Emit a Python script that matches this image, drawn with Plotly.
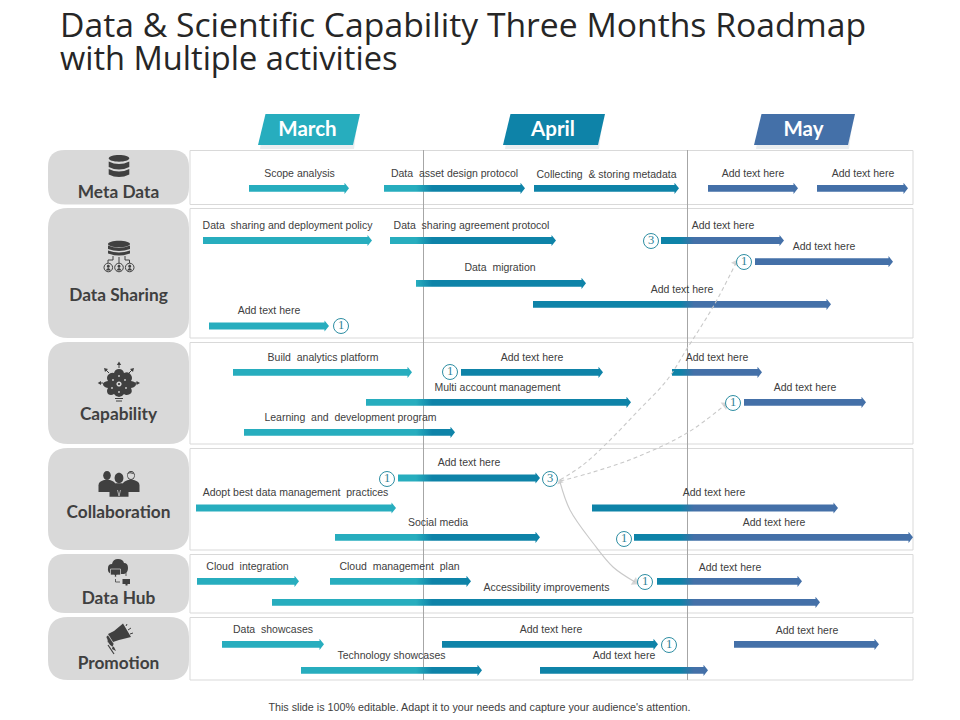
import math
import plotly.graph_objects as go

title_lines = ["Data & Scientific Capability Three Months Roadmap", "with Multiple activities"]
footer_text = "This slide is 100% editable. Adapt it to your needs and capture your audience's attention."

months = ["March", "April", "May"]
month_colors = ["#27ADBE", "#0E83A8", "#4470A8"]
month_left = [258, 503, 754]
month_right = [353, 598, 848]
month_text_x = [307.5, 553, 803.5]

categories = ["Meta Data", "Data Sharing", "Capability", "Collaboration", "Data Hub", "Promotion"]
row_top = [150, 208, 342, 448, 554, 617]
row_bottom = [204.5, 338, 444, 550, 613, 680]
category_text_y = [191, 294, 413, 511, 597, 662]

task_labels = [
    "Scope analysis", "Data  asset design protocol", "Collecting  & storing metadata", "Add text here", "Add text here",
    "Data  sharing and deployment policy", "Data  sharing agreement protocol", "Add text here", "Add text here",
    "Data  migration", "Add text here", "Add text here",
    "Build  analytics platform", "Add text here", "Add text here", "Multi account management", "Add text here",
    "Learning  and  development program",
    "Add text here", "Adopt best data management  practices", "Add text here", "Social media", "Add text here",
    "Cloud  integration", "Cloud  management  plan", "Add text here", "Accessibility improvements",
    "Data  showcases", "Add text here", "Add text here", "Technology showcases", "Add text here",
]
task_start = [249, 384, 534, 708, 817,
              203, 390, 661, 755, 416, 533, 209,
              233, 461, 672, 366, 744, 244,
              398, 196, 592, 335, 634,
              197, 330, 657, 272,
              222, 442, 734, 301, 540]
task_end = [349, 525, 679, 798, 908,
            372, 556, 784, 893, 586, 831, 329,
            412, 603, 762, 631, 866, 455,
            540, 396, 838, 540, 913,
            299, 471, 802, 820,
            324, 658, 879, 482, 708]
task_y = [188.3, 188.3, 188.3, 188.3, 188.3,
          240.5, 240.5, 240.5, 261.7, 283.3, 304.3, 326,
          372.3, 372.3, 372.3, 402.3, 402.3, 432.3,
          478, 508, 508, 537.3, 537.3,
          581.3, 581.3, 581.3, 602.3,
          644.3, 644.3, 644.3, 670.3, 670.3]
label_x = [299.5, 454.5, 606.5, 753, 863,
           287.5, 471.5, 723, 824, 500, 682, 269,
           323, 532, 717, 497.5, 805, 350.5,
           469, 295.5, 714, 438, 774,
           247.5, 399.5, 730, 546.5,
           273, 551, 807, 391.5, 624]
label_y = [174, 174, 175, 174, 174,
           226, 226, 226, 247, 268, 290, 311,
           358, 358, 358, 388, 388, 418,
           463, 493, 493, 523, 523,
           567, 567, 568, 588,
           630, 630, 631, 656, 656]

badge_x = [651, 744, 341, 450, 733, 387, 550, 624, 645, 669]
badge_y = [241, 262, 326, 372, 403, 479, 479, 539, 582, 645]
badge_text = ["3", "1", "1", "1", "1", "1", "3", "1", "1", "1"]

month_divider_x = [423.5, 687.5]

link_a_x = [560, 583, 607, 637, 667, 688, 713, 736]
link_a_y = [480, 465, 443, 412, 380, 347, 307, 263]
link_b_x = [560, 590, 637, 687, 725]
link_b_y = [481, 473, 457, 433, 405]
link_c_x = [560, 570, 593, 613, 635]
link_c_y = [482, 510, 543, 567, 582]

DARK = "#404040"
shapes = []


def rrect(x0, y0, x1, y1, r):
    return (f"M{x0+r},{y0} L{x1-r},{y0} Q{x1},{y0} {x1},{y0+r} L{x1},{y1-r} Q{x1},{y1} {x1-r},{y1} "
            f"L{x0+r},{y1} Q{x0},{y1} {x0},{y1-r} L{x0},{y0+r} Q{x0},{y0} {x0+r},{y0} Z")


def ell(cx, cy, rx, ry):
    k = 0.5523
    return (f"M{cx-rx},{cy} C{cx-rx},{cy-k*ry} {cx-k*rx},{cy-ry} {cx},{cy-ry} "
            f"C{cx+k*rx},{cy-ry} {cx+rx},{cy-k*ry} {cx+rx},{cy} "
            f"C{cx+rx},{cy+k*ry} {cx+k*rx},{cy+ry} {cx},{cy+ry} "
            f"C{cx-k*rx},{cy+ry} {cx-rx},{cy+k*ry} {cx-rx},{cy} Z")


def poly(points):
    return "M" + " L".join(f"{a},{b}" for a, b in points) + " Z"


def add(path, fill=DARK, line=None, width=0):
    shapes.append(dict(type="path", path=path, xref="x", yref="y", layer="below", fillcolor=fill,
                       line=dict(color=line or "rgba(0,0,0,0)", width=width)))


def stroke(pts, color=DARK, width=1.0):
    shapes.append(dict(type="path", path="M" + " L".join(f"{a},{b}" for a, b in pts), xref="x", yref="y",
                       layer="below", line=dict(color=color, width=width)))


def person(cx, cy, head, w, h, fill=DARK):
    add(ell(cx, cy, head * 0.85, head), fill)
    top = cy + head
    add(f"M{cx-w},{top+h} L{cx-w},{top+h*0.45} Q{cx-w},{top+h*0.12} {cx-w*0.35},{top} "
        f"L{cx+w*0.35},{top} Q{cx+w},{top+h*0.12} {cx+w},{top+h*0.45} L{cx+w},{top+h} Z", fill)


# month headers
for i in range(3):
    l, r = month_left[i], month_right[i]
    add(poly([(l + 2, 149), (l + 7, 118), (r + 5, 118), (r + 1, 149)]), "#E9EDF0")
    add(poly([(l, 145), (l + 7.5, 114), (r + 7, 114), (r, 145)]), month_colors[i])

# rows
for t, b in zip(row_top, row_bottom):
    add(rrect(48, t, 189, b, 20 if b - t > 60 else 17), "#D9D9D9")
    shapes.append(dict(type="rect", x0=190, x1=913, y0=t + 0.5, y1=b, xref="x", yref="y", layer="below",
                       fillcolor="white", line=dict(color="#D9D9D9", width=1)))
for x in month_divider_x:
    shapes.append(dict(type="line", x0=x, x1=x, y0=150, y1=680, xref="x", yref="y", layer="below",
                       line=dict(color="#A6A6A6", width=1)))

# icon: meta data
add(ell(119, 158.3, 10.3, 3.4))
add("M108.7,161.5 Q119,166.5 129.3,161.5 L129.3,167 Q119,172 108.7,167 Z")
add("M108.7,169 Q119,174 129.3,169 L129.3,174.5 Q119,179.5 108.7,174.5 Z")

# icon: data sharing
add(ell(119, 244, 11, 3.2))
add("M108,245.5 Q119,250 130,245.5 L130,249 Q119,253 108,249 Z")
add("M108,250.5 Q119,254.5 130,250.5 L130,253.5 Q119,257.5 108,253.5 Z")
stroke([(119, 257), (119, 263)])
stroke([(113, 256), (113, 260), (108, 260), (108, 263)])
stroke([(125, 256), (125, 260), (129.5, 260), (129.5, 263)])
for cx in (108.3, 119, 129.7):
    add(ell(cx, 267.5, 4.3, 4.3), "#D9D9D9", DARK, 1)
    add(ell(cx, 266.2, 1.5, 1.5))
    add(f"M{cx-2.6},{270.5} Q{cx},{265.5} {cx+2.6},{270.5} Z")

# icon: capability
add("M119,369 Q123,369 124,373 Q129,371 131,375 Q133,378 131,381 Q136,382 136,384 Q136,387 131,388 "
    "Q133,392 130,394 Q126,396 124,394 Q122,397 119,397 Q116,397 114,394 Q111,396 108,394 Q106,391 108,388 "
    "Q103,387 103,384 Q103,382 108,381 Q106,378 108,375 Q111,372 114,373 Q115,369 119,369 Z")
add(ell(119, 384, 2.6, 2.6), "#D9D9D9")
add(ell(119, 384, 1.1, 1.1))
for px, py in [(113, 380), (125, 380), (112, 388), (126, 388), (119, 376), (119, 392)]:
    add(ell(px, py, 0.9, 0.9), "#D9D9D9")
stroke([(115, 398.5), (123, 398.5)], DARK, 1)
stroke([(116, 401), (122, 401)], DARK, 1)
stroke([(119, 368), (119, 364)], DARK, 1)
add(poly([(116.8, 365), (119, 361.5), (121.2, 365)]))
stroke([(109, 373), (106, 370)], DARK, 1)
add(poly([(104, 368), (108, 369), (105, 372)]))
stroke([(129, 373), (132, 370)], DARK, 1)
add(poly([(134, 368), (130, 369), (133, 372)]))
stroke([(103, 383), (100, 383)], DARK, 1)
add(poly([(101, 381), (97.7, 383), (101, 385)]))
stroke([(135, 383), (137, 383)], DARK, 1)
add(poly([(136.5, 381), (140, 383), (136.5, 385)]))

# icon: collaboration
person(107, 475.5, 4.5, 8.5, 12)
person(131, 475.5, 4.5, 8.5, 12)
person(119, 478, 5.2, 9.5, 13.5)
add(ell(131, 475.5, 3.2, 3.4), "#D9D9D9")
add("M126.5,474 Q131,470 135.5,475 Q131,472 126.5,474 Z")
stroke([(117.5, 490), (119, 496)], "#D9D9D9", 0.7)
stroke([(120.5, 490), (119, 496)], "#D9D9D9", 0.7)

# icon: data hub
add("M112,574 Q107,573 108,568 Q108,564 112,564 Q113,559 118,559 Q123,559 124,563 Q128,563 128,568 "
    "Q128,573 124,574 Z")
add(poly([(110.5, 569), (120.5, 569), (120.5, 575), (116.5, 575), (116.5, 577), (114.5, 577), (114.5, 575), (110.5, 575)]),
    DARK, "#D9D9D9", 0.7)
add(poly([(122.5, 579), (130, 579), (130, 584), (127.5, 584), (127.5, 585.5), (125.5, 585.5), (125.5, 584), (122.5, 584)]))
stroke([(115.5, 579), (115.5, 582), (120, 582)], DARK, 0.8)
stroke([(122, 572.5), (126, 572.5), (126, 576)], DARK, 0.8)

# icon: promotion
add(poly([(123, 623.5), (131, 637), (119, 640), (113, 642), (108, 634), (114, 631)]))
add(poly([(108, 635), (114, 644), (112, 647), (106, 637)]), DARK, "#D9D9D9", 0.5)
add(poly([(107, 637), (113, 645), (112, 649), (116, 651), (114, 647), (110, 645), (107, 640), (108.5, 644)]))
stroke([(108, 645), (114, 654)], DARK, 1.2)
stroke([(128, 630), (131, 628)], DARK, 1)
stroke([(130, 634), (133, 633)], DARK, 1)
stroke([(126, 626), (127, 624)], DARK, 1)

fig = go.Figure()

# task arrows: one trace whose gradient runs across the month boundaries
BODY, HEAD, TIP = 3.4, 5.6, 4.5
xs, ys = [], []
for s, e, y in zip(task_start, task_end, task_y):
    xs += [s, e - TIP, e - TIP, e, e - TIP, e - TIP, s, s, None]
    ys += [y - BODY, y - BODY, y - HEAD, y, y + HEAD, y + BODY, y + BODY, y - BODY, None]
gs, ge = 190.0, 915.0
norm = lambda v: (v - gs) / (ge - gs)
fig.add_trace(go.Scatter(
    x=xs, y=ys, mode="lines", fill="toself", line=dict(width=0), hoverinfo="skip", showlegend=False,
    fillgradient=dict(type="horizontal", start=gs, stop=ge, colorscale=[
        [0, month_colors[0]], [norm(416), month_colors[0]], [norm(432), month_colors[1]],
        [norm(680), month_colors[1]], [norm(694), month_colors[2]], [1, month_colors[2]]])))


def heading(x0, y0, x1, y1):
    return math.degrees(math.atan2(x1 - x0, -(y1 - y0)))


# links
for lx, ly, dash, both in [(link_a_x, link_a_y, "4px,3px", False), (link_b_x, link_b_y, "4px,3px", False),
                           (link_c_x, link_c_y, "solid", True)]:
    sizes = [0] * len(lx)
    angles = [0] * len(lx)
    sizes[-1] = 8
    angles[-1] = heading(lx[-2], ly[-2], lx[-1], ly[-1])
    if both:
        sizes[0] = 6
        angles[0] = heading(lx[1], ly[1], lx[0], ly[0])
    fig.add_trace(go.Scatter(
        x=lx, y=ly, mode="lines+markers", hoverinfo="skip", showlegend=False,
        line=dict(color="#C9C9C9", width=1.1, dash=dash, shape="spline", smoothing=1),
        marker=dict(symbol="triangle-up", size=sizes, angle=angles, color="#C4C4C4", line=dict(width=0))))

# badges
fig.add_trace(go.Scatter(
    x=badge_x, y=badge_y, mode="markers+text", text=badge_text, textposition="middle center",
    textfont=dict(family="Liberation Serif", size=12.5, color="#2E8296"), hoverinfo="skip", showlegend=False,
    marker=dict(size=15, color="white", line=dict(color="#2E8EA3", width=1))))

# task labels
fig.add_trace(go.Scatter(
    x=label_x, y=label_y, mode="text", text=task_labels, textposition="middle center", hoverinfo="skip",
    showlegend=False, textfont=dict(family="Liberation Sans", size=10.5, color=DARK)))

# month labels
fig.add_trace(go.Scatter(
    x=month_text_x, y=[131, 131, 131], mode="text", text=months, textposition="middle center", hoverinfo="skip",
    showlegend=False, textfont=dict(family="Lato", size=20.5, color="white", weight=700)))

# category labels
fig.add_trace(go.Scatter(
    x=[118.5] * 6, y=[v + 3 for v in category_text_y], mode="text", text=categories, textposition="middle center",
    hoverinfo="skip", showlegend=False, textfont=dict(family="Lato", size=17.3, color=DARK, weight=700)))

# footer
fig.add_trace(go.Scatter(
    x=[479.5], y=[708.5], mode="text", text=[footer_text], textposition="middle center", hoverinfo="skip",
    showlegend=False, textfont=dict(family="Liberation Sans", size=10.75, color=DARK)))

annotations = [
    dict(text=line, x=58, y=yc, xref="x", yref="y", xanchor="left", yanchor="middle", showarrow=False,
         font=dict(family="Open Sans", size=fs, color="#262626"))
    for line, yc, fs in zip(title_lines, [23.5, 57], [33.7, 32.6])
]

fig.update_layout(
    width=960, height=720, autosize=False, margin=dict(l=0, r=0, t=0, b=0),
    paper_bgcolor="white", plot_bgcolor="white", showlegend=False, shapes=shapes, annotations=annotations,
    xaxis=dict(range=[0, 960], visible=False, fixedrange=True),
    yaxis=dict(range=[720, 0], visible=False, fixedrange=True),
)
fig.write_html("out.html", config={"displayModeBar": False},
               post_script="document.body.style.margin='0';")
